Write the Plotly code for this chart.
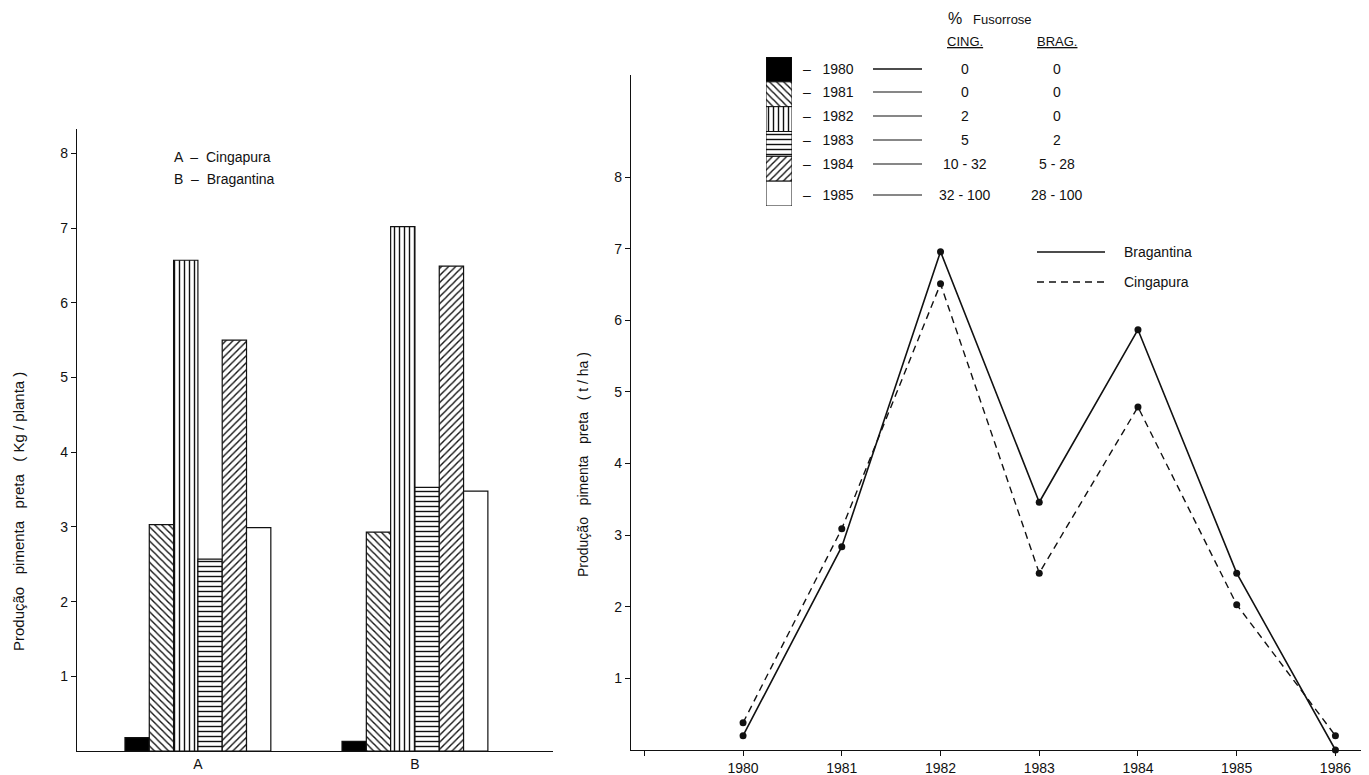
import plotly.graph_objects as go

# ---------------- data ----------------
groups = ["A", "B"]
years = ["1980", "1981", "1982", "1983", "1984", "1985"]
kg_cingapura = [0.18, 3.03, 6.57, 2.57, 5.50, 2.99]   # group A
kg_bragantina = [0.13, 2.93, 7.02, 3.53, 6.49, 3.48]  # group B
bar_patterns = ["", "\\", "|", "-", "/", ""]
bar_fills = ["black", "white", "white", "white", "white", "white"]

line_years = [1980, 1981, 1982, 1983, 1984, 1985, 1986]
tha_bragantina = [0.20, 2.84, 6.96, 3.46, 5.87, 2.47, 0.00]
tha_cingapura = [0.38, 3.09, 6.51, 2.47, 4.79, 2.03, 0.20]

fus_cing = ["0", "0", "2", "5", "10 - 32", "32 - 100"]
fus_brag = ["0", "0", "0", "2", "5 - 28", "28 - 100"]

# page body has an 8px margin -> figure sized to fill the rest of the window
OFF = 8
W, H = 1369 - OFF, 775 - OFF
FONT = "Liberation Sans, Arial, sans-serif"
INK = "#111111"


def px(x):
    return (x - OFF) / W


def py(y):
    return 1 - (y - OFF) / H


fig = go.Figure()

# ---------------- left: grouped bars ----------------
for i, yr in enumerate(years):
    fig.add_trace(go.Bar(
        x=groups, y=[kg_cingapura[i], kg_bragantina[i]], name=yr,
        xaxis="x", yaxis="y", showlegend=False,
        marker=dict(color=bar_fills[i], line=dict(color=INK, width=1.2),
                    pattern=dict(shape=bar_patterns[i], fgcolor=INK,
                                 bgcolor=bar_fills[i], size=5, solidity=0.28)),
    ))

# ---------------- pattern key (stacked swatch) ----------------
n = len(years)
for i, yr in enumerate(years):
    fig.add_trace(go.Bar(
        x=[0], y=[1], base=[n - 1 - i], width=1, offsetgroup="key",
        xaxis="x3", yaxis="y3", showlegend=False, hoverinfo="skip",
        marker=dict(color=bar_fills[i], line=dict(color=INK, width=1),
                    pattern=dict(shape=bar_patterns[i], fgcolor=INK,
                                 bgcolor=bar_fills[i], size=5, solidity=0.28)),
    ))

# ---------------- right: lines ----------------
fig.add_trace(go.Scatter(
    x=line_years, y=tha_bragantina, mode="lines+markers", name="Bragantina",
    xaxis="x2", yaxis="y2", showlegend=False, cliponaxis=False,
    line=dict(color=INK, width=1.6), marker=dict(color=INK, size=7),
))
fig.add_trace(go.Scatter(
    x=line_years, y=tha_cingapura, mode="lines+markers", name="Cingapura",
    xaxis="x2", yaxis="y2", showlegend=False, cliponaxis=False,
    line=dict(color=INK, width=1.4, dash="7px,5px"), marker=dict(color=INK, size=7),
))

tickfont = dict(family=FONT, size=14, color=INK)
axcommon = dict(showgrid=False, zeroline=False, showline=True, linecolor=INK,
                linewidth=1.3, ticks="outside", ticklen=5, tickcolor=INK,
                tickfont=tickfont)

fig.update_layout(
    width=W, height=H, template="none",
    paper_bgcolor="white", plot_bgcolor="white",
    margin=dict(l=0, r=0, t=0, b=0),
    barmode="group", bargap=0.328, bargroupgap=0,
    xaxis=dict(domain=[px(77), px(553)], range=[-0.557, 1.636], type="category",
               **{**axcommon, "ticks": ""}),
    yaxis=dict(domain=[py(751), py(129)], range=[0, 8.327],
               tickvals=[1, 2, 3, 4, 5, 6, 7, 8], **axcommon),
    xaxis2=dict(domain=[px(631), 1.0], range=[1978.865, 1986.34],
                tickvals=[1979, 1980, 1981, 1982, 1983, 1984, 1985, 1986],
                ticktext=["", "1980", "1981", "1982", "1983", "1984", "1985", "1986"],
                anchor="y2", **axcommon),
    yaxis2=dict(domain=[py(750), py(75)], range=[0, 9.427], anchor="x2",
                tickvals=[1, 2, 3, 4, 5, 6, 7, 8], **axcommon),
    xaxis3=dict(domain=[px(766), px(792)], range=[-0.5, 0.5], visible=False, anchor="y3"),
    yaxis3=dict(domain=[py(206), py(57)], range=[0, 6], visible=False, anchor="x3"),
)

ann = []


def text(x, y, s, size=13, anchor="left", angle=0):
    ann.append(dict(x=px(x), y=py(y), xref="paper", yref="paper", text=s,
                    showarrow=False, xanchor=anchor, yanchor="middle",
                    textangle=angle, font=dict(family=FONT, size=size, color=INK)))


# axis titles
text(18, 512, "Produção   pimenta   preta   ( Kg / planta )", size=15, anchor="center", angle=-90)
text(583, 465, "Produção   pimenta   preta   ( t / ha )", size=14, anchor="center", angle=-90)

# left key
text(172, 157, "A  –  Cingapura", size=14)
text(172, 179, "B  –  Bragantina", size=14)

# fusarium table
text(990, 18, "<span style='font-size:16px'>%</span>   Fusorrose", size=13, anchor="center")
text(965, 41, "<u>CING.</u>", size=13, anchor="center")
text(1057, 41, "<u>BRAG.</u>", size=13, anchor="center")
row_y = [69, 92, 116, 140, 164, 195]
shapes = []
for i, yr in enumerate(years):
    text(801, row_y[i], "–   " + yr, size=14)
    text(965, row_y[i], fus_cing[i], size=14, anchor="center")
    text(1057, row_y[i], fus_brag[i], size=14, anchor="center")
    shapes.append(dict(type="line", xref="paper", yref="paper",
                       x0=px(873), x1=px(922), y0=py(row_y[i]), y1=py(row_y[i]),
                       line=dict(color=INK, width=1.1 if i != 0 else 1.5)))

# line legend
shapes.append(dict(type="line", xref="paper", yref="paper", x0=px(1037), x1=px(1105),
                   y0=py(252), y1=py(252), line=dict(color=INK, width=1.6)))
shapes.append(dict(type="line", xref="paper", yref="paper", x0=px(1037), x1=px(1105),
                   y0=py(282), y1=py(282), line=dict(color=INK, width=1.4, dash="7px,5px")))
text(1122, 252, "Bragantina", size=14)
text(1122, 282, "Cingapura", size=14)

fig.update_layout(annotations=ann, shapes=shapes)
fig.write_html("out.html")
